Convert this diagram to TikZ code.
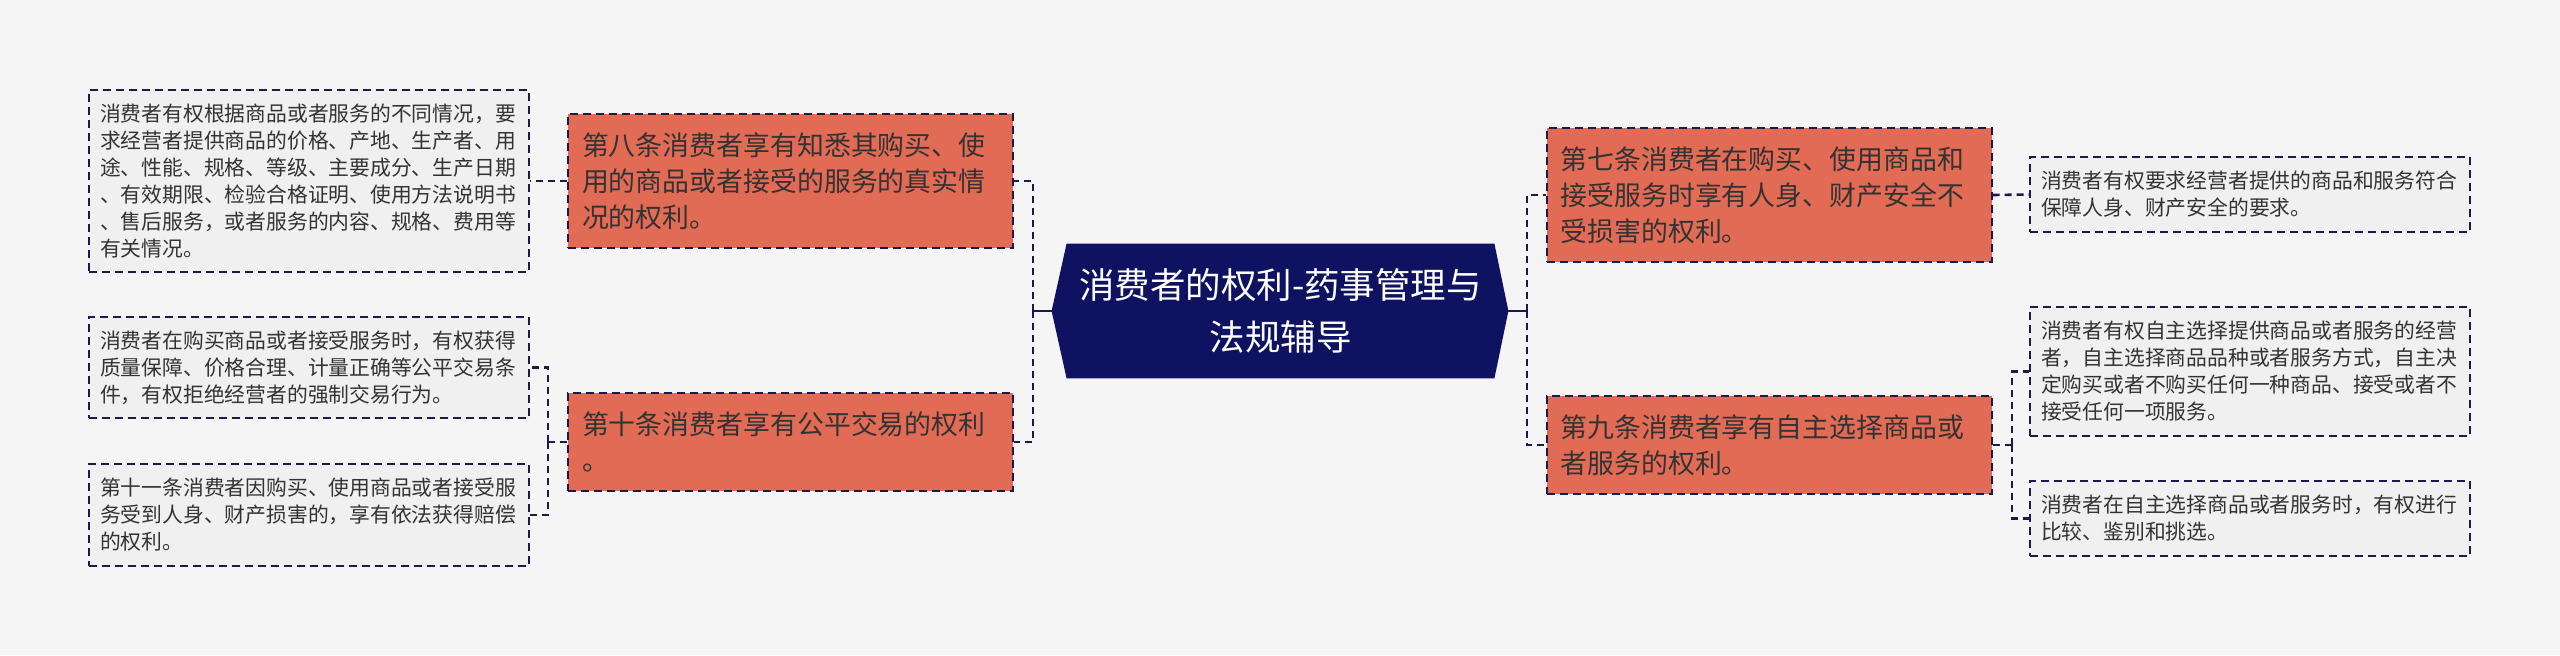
\documentclass[tikz,border=0pt]{standalone}
\usepackage{fontspec}
\setmainfont{Noto Sans CJK SC}
\usetikzlibrary{backgrounds}
\definecolor{bgC}{HTML}{F5F5F5}
\definecolor{leafC}{HTML}{F0F0F0}
\definecolor{branchC}{HTML}{E26B56}
\definecolor{rootC}{HTML}{0E1261}
\definecolor{lineC}{HTML}{1B1B4B}
\definecolor{txtC}{HTML}{333333}
\tikzset{
  box/.style={draw=lineC, line width=1pt, dash pattern=on 4pt off 2.5pt, align=left, inner ysep=0pt},
  leaf/.style={box, fill=leafC, text=txtC, text width=209pt, inner xsep=5.5pt, font=\fontsize{10.4}{13.5}\selectfont},
  branch/.style={box, fill=branchC, text=txtC, text width=208.5pt, inner xsep=7pt, font=\fontsize{13.45}{18}\selectfont},
  rootnode/.style={text=white, align=center, minimum width=213.5pt, minimum height=67pt, inner sep=0pt, font=\fontsize{17.75}{26}\selectfont},
  conn/.style={draw=lineC, line width=1.3pt, dash pattern=on 3.5pt off 2.5pt},
  stub/.style={draw=lineC, line width=1.3pt},
}
\begin{document}
\begin{tikzpicture}[x=0.5pt,y=-0.5pt]
\useasboundingbox (0,0) rectangle (2560,655);
% root
\node[rootnode] (root) at (1280.5,311) {消费者的权利-药事管理与\\法规辅导};
% branches
\node[branch, minimum height=67pt] (b8) at (790.5,181) {第八条消费者享有知悉其购买、使\\用的商品或者接受的服务的真实情\\况的权利。};
\node[branch, minimum height=49pt] (b10) at (790.5,442) {第十条消费者享有公平交易的权利\\。};
\node[branch, minimum height=67pt] (b7) at (1769,195) {第七条消费者在购买、使用商品和\\接受服务时享有人身、财产安全不\\受损害的权利。};
\node[branch, minimum height=49pt] (b9) at (1769,445) {第九条消费者享有自主选择商品或\\者服务的权利。};
% left leaves
\node[leaf, minimum height=91pt] (l1) at (309,181) {消费者有权根据商品或者服务的不同情况，要\\求经营者提供商品的价格、产地、生产者、用\\途、性能、规格、等级、主要成分、生产日期\\、有效期限、检验合格证明、使用方法说明书\\、售后服务，或者服务的内容、规格、费用等\\有关情况。};
\node[leaf, minimum height=50.5pt] (l2) at (309,367.5) {消费者在购买商品或者接受服务时，有权获得\\质量保障、价格合理、计量正确等公平交易条\\件，有权拒绝经营者的强制交易行为。};
\node[leaf, minimum height=51pt] (l3) at (309,515) {第十一条消费者因购买、使用商品或者接受服\\务受到人身、财产损害的，享有依法获得赔偿\\的权利。};
% right leaves
\node[leaf, minimum height=37.5pt] (r1) at (2250,194.5) {消费者有权要求经营者提供的商品和服务符合\\保障人身、财产安全的要求。};
\node[leaf, minimum height=64.5pt] (r2) at (2250,371.5) {消费者有权自主选择提供商品或者服务的经营\\者，自主选择商品品种或者服务方式，自主决\\定购买或者不购买任何一种商品、接受或者不\\接受任何一项服务。};
\node[leaf, minimum height=37.5pt] (r3) at (2250,518.5) {消费者在自主选择商品或者服务时，有权进行\\比较、鉴别和挑选。};
% junction coordinates
\coordinate (jl) at (1033,311);
\coordinate (jr) at (1527,311);
\coordinate (jl10) at (548,442);
\coordinate (jr9) at (2012,445);
\begin{scope}[on background layer]
\fill[bgC] (0,0) rectangle (2560,655);
\fill[rootC] (root.north west) -- (root.north east) -- ([xshift=7pt]root.east) -- (root.south east) -- (root.south west) -- ([xshift=-7.5pt]root.west) -- cycle;
\coordinate (rootL) at ([xshift=-7.5pt]root.west);
\coordinate (rootR) at ([xshift=7pt]root.east);
\draw[stub] (rootL) -- (jl);
\draw[conn] (jl) |- (b8.east);
\draw[conn] (jl) |- (b10.east);
\draw[stub] (rootR) -- (jr);
\draw[conn] (jr) |- (b7.west);
\draw[conn] (jr) |- (b9.west);
\draw[conn] (b8.west) -- (l1.east);
\draw[conn] (b10.west) -- (jl10);
\draw[conn] (jl10) |- (l2.east);
\draw[conn] (jl10) |- (l3.east);
\draw[conn] (b7.east) -- (r1.west);
\draw[conn] (b9.east) -- (jr9);
\draw[conn] (jr9) |- (r2.west);
\draw[conn] (jr9) |- (r3.west);
\end{scope}
\end{tikzpicture}
\end{document}
